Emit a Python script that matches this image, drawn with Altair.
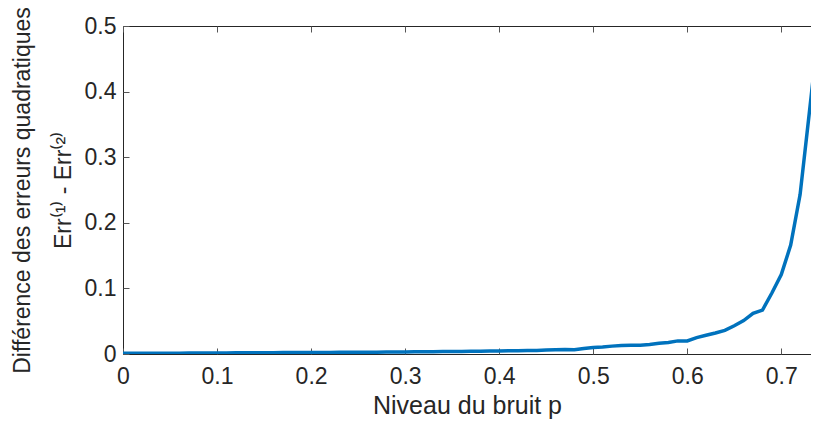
import altair as alt
import pandas as pd

p_values = [round(i * 0.01, 2) for i in range(75)]
diff_values = [
    0.0010, 0.0011, 0.0011, 0.0012, 0.0012, 0.0013, 0.0013, 0.0014, 0.0015, 0.0016,
    0.0017, 0.0017, 0.0018, 0.0018, 0.0019, 0.0020, 0.0020, 0.0021, 0.0022, 0.0022,
    0.0023, 0.0024, 0.0024, 0.0025, 0.0026, 0.0026, 0.0027, 0.0028, 0.0029, 0.0030,
    0.0031, 0.0033, 0.0034, 0.0035, 0.0037, 0.0038, 0.0040, 0.0041, 0.0043, 0.0045,
    0.0047, 0.0049, 0.0051, 0.0053, 0.0055, 0.0060, 0.0066, 0.0070, 0.0064, 0.0085,
    0.0100, 0.0105, 0.0120, 0.0130, 0.0133, 0.0135, 0.0145, 0.0165, 0.0175, 0.0200,
    0.0200, 0.0250, 0.0285, 0.0320, 0.0360, 0.0430, 0.0510, 0.0620, 0.0670, 0.0930,
    0.1210, 0.1660, 0.2430, 0.3700, 0.5000,
]
x_ticks = [0, 0.1, 0.2, 0.3, 0.4, 0.5, 0.6, 0.7]
y_ticks = [0, 0.1, 0.2, 0.3, 0.4, 0.5]

df = pd.DataFrame({"p": p_values, "d": diff_values})

FONT = "Liberation Sans"
TXT = "#262626"
TICK = 6

xscale = alt.Scale(domain=[0, 0.7316], nice=False, zero=False)
yscale = alt.Scale(domain=[0, 0.5], nice=False)

line = alt.Chart(df).mark_line(color="#0072BD", strokeWidth=3.5, clip=True).encode(
    x=alt.X("p:Q", scale=xscale,
            axis=alt.Axis(values=x_ticks, format=".1~f", title="Niveau du bruit p",
                          orient="bottom", offset=-TICK, tickSize=TICK, domain=False,
                          grid=False, labelPadding=11, titlePadding=5, labelFlush=False,
                          labelFontSize=23, titleFontSize=25)),
    y=alt.Y("d:Q", scale=yscale,
            axis=alt.Axis(values=y_ticks, format=".1~f",
                          title=["Différence des erreurs quadratiques", "Err⁽¹⁾ - Err⁽²⁾"],
                          orient="left", offset=-TICK, tickSize=TICK, domain=False,
                          grid=False, labelPadding=7, titlePadding=9,
                          labelFontSize=23, titleFontSize=23,
                          titleLineHeight=41)),
)

top = alt.Chart(df).mark_line(opacity=0).encode(
    x=alt.X("p:Q", scale=xscale,
            axis=alt.Axis(values=x_ticks, orient="top", offset=-TICK, tickSize=TICK,
                          domain=False, grid=False, labels=False, title=None)),
    y=alt.Y("d:Q", scale=yscale, axis=None),
)

chart = alt.layer(line, top).resolve_axis(x="independent", y="independent").properties(
    width=688, height=328,
    background="white",
    autosize=alt.AutoSizeParams(type="none"),
    padding={"left": 115, "top": 18, "right": 0, "bottom": 65},
).configure_view(
    stroke=TXT, strokeWidth=1
).configure_axis(
    labelFont=FONT, titleFont=FONT,
    labelColor=TXT, titleColor=TXT, tickColor="#555555", tickWidth=1,
    titleFontWeight="normal",
)

chart.save("out.html", embed_options={"renderer": "svg", "actions": False})
